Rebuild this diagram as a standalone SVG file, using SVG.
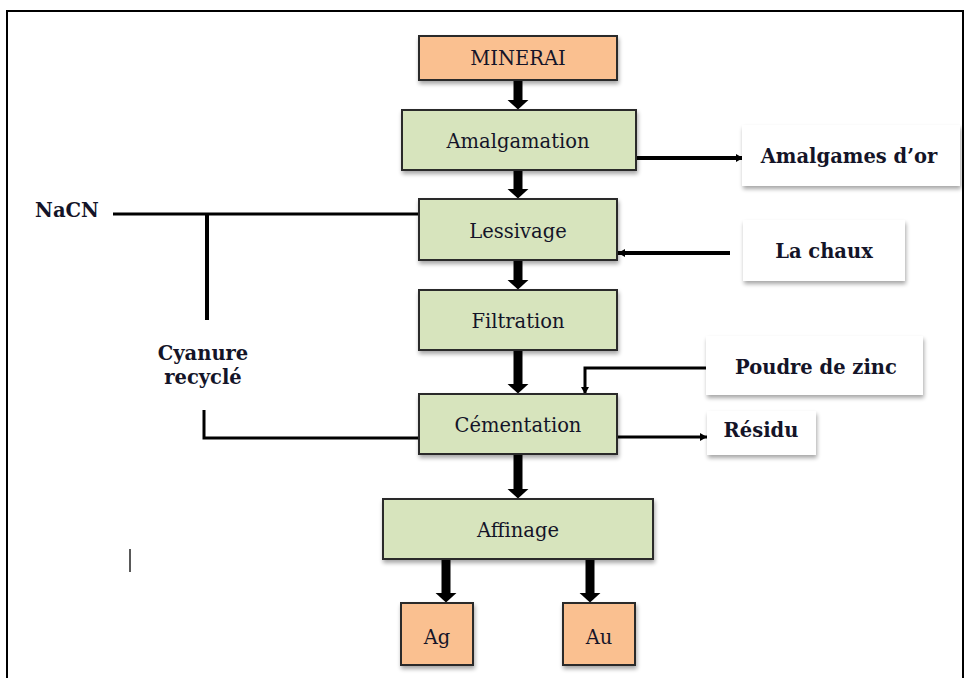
<svg xmlns="http://www.w3.org/2000/svg" width="965" height="678" viewBox="0 0 965 678">
<style>
.t{font-family:"DejaVu Serif","Liberation Serif",serif;font-size:19.5px;fill:#141428;text-anchor:middle;dominant-baseline:central}
.b{font-weight:bold;font-size:19.5px}
.g{fill:#d7e4bd;stroke:#2a2a2a;stroke-width:2}
.o{fill:#fac090;stroke:#2a2a2a;stroke-width:2}
.w{fill:#fff}
.thick{stroke:#000;stroke-width:9;fill:none}
.thin{stroke:#000;stroke-width:4;fill:none}
.line{stroke:#000;stroke-width:3;fill:none}
</style>
<defs>
<filter id="sh" x="-10%" y="-10%" width="130%" height="140%">
<feGaussianBlur in="SourceAlpha" stdDeviation="2"/>
<feOffset dx="1" dy="3" result="b"/>
<feComponentTransfer><feFuncA type="linear" slope="0.35"/></feComponentTransfer>
<feMerge><feMergeNode/><feMergeNode in="SourceGraphic"/></feMerge>
</filter>
<marker id="big" markerUnits="userSpaceOnUse" markerWidth="12" markerHeight="22" refX="0.5" refY="11" orient="auto" viewBox="0 0 12 22">
<path d="M0 0 L10 11 L0 22 Z" fill="#000"/>
</marker>
<marker id="sm" markerUnits="userSpaceOnUse" markerWidth="10" markerHeight="10" refX="9" refY="5" orient="auto" viewBox="0 0 10 10">
<path d="M2 1 L9 5 L2 9 Z" fill="#000"/>
</marker>
</defs>
<rect width="965" height="678" fill="#fff"/>
<path d="M7 690 V11 H963 V690" fill="none" stroke="#000" stroke-width="2"/>

<g id="connectors">
<path class="thick" d="M518 80 V100" marker-end="url(#big)"/>
<path class="thick" d="M518 170 V189" marker-end="url(#big)"/>
<path class="thick" d="M518 260 V280" marker-end="url(#big)"/>
<path class="thick" d="M518 350 V384" marker-end="url(#big)"/>
<path class="thick" d="M518 455 V489" marker-end="url(#big)"/>
<path class="thick" d="M446 559 V593" marker-end="url(#big)"/>
<path class="thick" d="M590 559 V593" marker-end="url(#big)"/>
<path class="thin" d="M636 158 H743" marker-end="url(#sm)"/>
<path class="thin" d="M730 253 H618" marker-end="url(#sm)"/>
<path class="line" d="M113 214 H419"/>
<path class="thin" d="M207 214 V320"/>
<path class="line" d="M204 410 V438 H419"/>
<path class="line" d="M715 368 H585 V394" marker-end="url(#sm)"/>
<path class="line" d="M617 437 H707" marker-end="url(#sm)"/>
</g>

<g id="minerai"><rect class="o" x="419" y="36" width="198" height="44" filter="url(#sh)"/><text class="t" x="518" y="58">MINERAI</text></g>
<g id="amalgamation"><rect class="g" x="402" y="110" width="234" height="60" filter="url(#sh)"/><text class="t" x="518" y="141">Amalgamation</text></g>
<g id="lessivage"><rect class="g" x="419" y="199" width="198" height="61" filter="url(#sh)"/><text class="t" x="518" y="231">Lessivage</text></g>
<g id="filtration"><rect class="g" x="419" y="290" width="198" height="60" filter="url(#sh)"/><text class="t" x="518" y="321">Filtration</text></g>
<g id="cementation"><rect class="g" x="419" y="394" width="198" height="60" filter="url(#sh)"/><text class="t" x="518" y="425">Cémentation</text></g>
<g id="affinage"><rect class="g" x="383" y="499" width="270" height="60" filter="url(#sh)"/><text class="t" x="518" y="530">Affinage</text></g>
<g id="ag"><rect class="o" x="401" y="603" width="72" height="62" filter="url(#sh)"/><text class="t" x="437" y="637">Ag</text></g>
<g id="au"><rect class="o" x="563" y="603" width="72" height="62" filter="url(#sh)"/><text class="t" x="599" y="637">Au</text></g>

<g id="amalgames"><rect class="w" x="742" y="125" width="218" height="61" filter="url(#sh)"/><text class="t b" x="849" y="156">Amalgames d’or</text></g>
<g id="chaux"><rect class="w" x="743" y="220" width="162" height="61" filter="url(#sh)"/><text class="t b" x="824" y="251">La chaux</text></g>
<g id="zinc"><rect class="w" x="706" y="336" width="217" height="59" filter="url(#sh)"/><text class="t b" x="816" y="367">Poudre de zinc</text></g>
<g id="residu"><rect class="w" x="707" y="411" width="109" height="44" filter="url(#sh)"/><text class="t b" x="761" y="430">Résidu</text></g>
<g id="nacn"><text class="t b" x="67" y="210">NaCN</text></g>
<g id="cyanure"><text class="t b" x="203" y="353">Cyanure</text><text class="t b" x="203" y="377">recyclé</text></g>
<line x1="130" y1="549" x2="130" y2="572" stroke="#222" stroke-width="1.5"/>
</svg>
